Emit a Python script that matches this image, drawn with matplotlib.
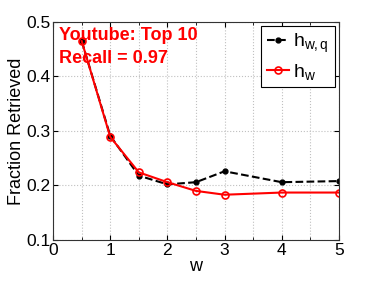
import numpy as np
import matplotlib
matplotlib.use("Agg")
import matplotlib.pyplot as plt

plt.rcParams['font.family'] = ['Liberation Sans', 'DejaVu Sans']
plt.rcParams['mathtext.fontset'] = 'custom'
plt.rcParams['mathtext.rm'] = 'Liberation Sans'
plt.rcParams['mathtext.it'] = 'Liberation Sans'

w = [0.5, 1, 1.5, 2, 2.5, 3, 4, 5]
h_wq = [0.465, 0.291, 0.218, 0.202, 0.206, 0.226, 0.206, 0.208]
h_w = [0.465, 0.289, 0.224, 0.206, 0.190, 0.183, 0.187, 0.187]

fig = plt.figure(figsize=(3.74, 2.81), dpi=100)
ax = fig.add_axes([0.142, 0.146, 0.764, 0.776])

ax.plot(w, h_wq, 'k--', marker='.', markersize=7, linewidth=1.5, label=r'$\mathregular{h_{w,q}}$')
ax.plot(w, h_w, 'r-', marker='o', markersize=5, markerfacecolor='none',
        markeredgecolor='r', markeredgewidth=1.2, linewidth=1.5, label=r'$\mathregular{h_w}$')

ax.set_xlim(0, 5)
ax.set_ylim(0.1, 0.5)
ax.set_xticks([0, 1, 2, 3, 4, 5])
ax.set_xticks(np.arange(0, 5.01, 0.5), minor=True)
ax.set_yticks([0.1, 0.2, 0.3, 0.4, 0.5])
ax.set_yticklabels(['0.1', '0.2', '0.3', '0.4', '0.5'])
ax.tick_params(which='both', direction='in', top=True, right=True, labelsize=12.5, pad=2)
ax.tick_params(which='minor', length=2)
ax.grid(True, which='both', linestyle=':', color='#c0c0c0', linewidth=0.8)
for s in ax.spines.values():
    s.set_color('#333333')

ax.set_xlabel('w', fontsize=13, labelpad=0)
ax.set_ylabel('Fraction Retrieved', fontsize=13, labelpad=1)

ax.text(0.02, 0.94, 'Youtube: Top 10', transform=ax.transAxes, color='red',
        fontsize=13, fontweight='bold', va='center')
ax.text(0.02, 0.83, 'Recall = 0.97', transform=ax.transAxes, color='red',
        fontsize=13, fontweight='bold', va='center')

leg = ax.legend(loc='upper right', fontsize=14, fancybox=False, framealpha=1,
                edgecolor='black', handlelength=1.1, handletextpad=0.25,
                borderaxespad=0.2, borderpad=0.3, labelspacing=0.35)
leg.get_frame().set_linewidth(0.8)

fig.savefig('out.png', dpi=100)
